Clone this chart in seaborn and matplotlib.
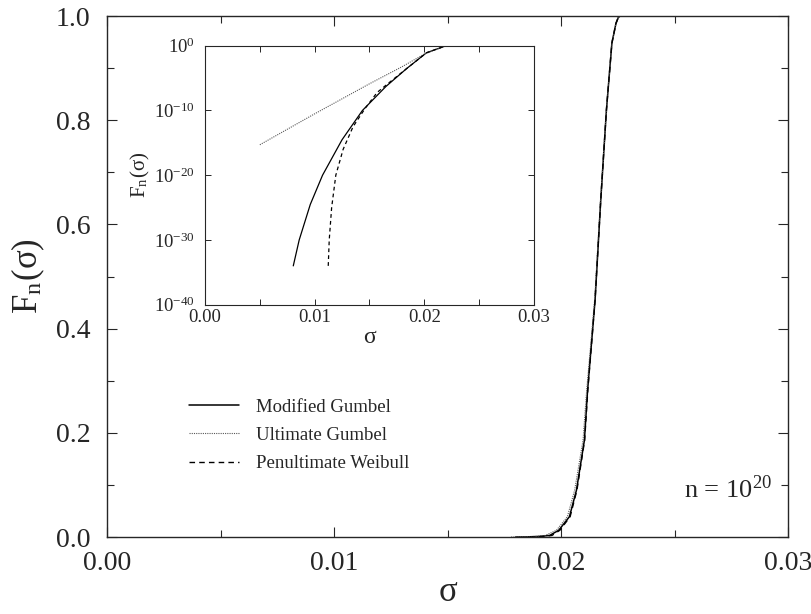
import matplotlib
matplotlib.use('Agg')
import matplotlib.pyplot as plt
import seaborn as sns
from matplotlib.ticker import MultipleLocator, FixedLocator, NullLocator, FormatStrFormatter

# main panel: F_n(sigma) on linear axes
main_F = [0.0, 0.0003, 0.001, 0.003, 0.013, 0.039, 0.09, 0.186, 0.282, 0.455, 0.647, 0.82, 0.948, 0.986, 0.997, 1.0]
main_sig_mod = [0.0180, 0.0185, 0.0190, 0.0195, 0.0199, 0.02037, 0.02068, 0.02103, 0.02117, 0.0215, 0.02175, 0.0220, 0.02224, 0.02242, 0.02252, 0.0226]
main_sig_ult = [0.0178, 0.0183, 0.0188, 0.0193, 0.0198, 0.02028, 0.0206, 0.02097, 0.02113, 0.02148, 0.02174, 0.0220, 0.02224, 0.02242, 0.02252, 0.0226]
main_sig_wei = [0.0186, 0.0189, 0.0192, 0.0196, 0.01995, 0.0204, 0.0207, 0.02104, 0.02118, 0.0215, 0.02175, 0.0220, 0.02224, 0.02242, 0.02252, 0.0226]

# inset: same curves on a log scale
in_sig_mod = [0.00805, 0.00859, 0.0096, 0.01072, 0.0125, 0.01436, 0.0165, 0.0184, 0.0202, 0.0220]
in_F_mod = [1e-34, 1e-30, 3e-25, 1e-20, 3e-15, 1e-10, 5e-7, 3e-4, 8e-2, 1.0]
in_sig_ult = [0.0050, 0.0100, 0.0150, 0.0180, 0.0200, 0.0220]
in_F_ult = [5e-16, 3e-11, 1.3e-6, 6e-4, 5e-2, 1.0]
in_sig_wei = [0.01124, 0.01133, 0.01155, 0.01193, 0.0126, 0.0135, 0.0146, 0.0157, 0.0168, 0.0184, 0.0202, 0.0220]
in_F_wei = [1e-34, 1e-30, 1e-25, 1e-20, 1e-16, 3e-13, 2e-10, 6e-8, 2e-6, 3e-4, 8e-2, 1.0]

sns.set_style('ticks')
plt.rcParams['font.family'] = ['Liberation Serif', 'DejaVu Serif']
plt.rcParams['mathtext.fontset'] = 'stix'

fig = plt.figure(figsize=(8.12, 6.14), dpi=100)
ax = fig.add_axes([0.1318, 0.1254, 0.8387, 0.8485])

sns.lineplot(x=main_sig_mod, y=main_F, ax=ax, color='black', lw=1.1, estimator=None, label='Modified Gumbel')
sns.lineplot(x=main_sig_ult, y=main_F, ax=ax, color='0.35', lw=0.8, linestyle=(0, (1, 1)), estimator=None, label='Ultimate Gumbel')
sns.lineplot(x=main_sig_wei, y=main_F, ax=ax, color='black', lw=1.0, linestyle=(0, (4, 3)), estimator=None, label='Penultimate Weibull')

ax.set_xlim(0, 0.03)
ax.set_ylim(0, 1)
ax.xaxis.set_major_locator(MultipleLocator(0.01))
ax.xaxis.set_minor_locator(MultipleLocator(0.005))
ax.yaxis.set_major_locator(MultipleLocator(0.2))
ax.yaxis.set_minor_locator(MultipleLocator(0.1))
ax.xaxis.set_major_formatter(FormatStrFormatter('%.2f'))
ax.yaxis.set_major_formatter(FormatStrFormatter('%.1f'))
ax.tick_params(which='major', direction='in', top=True, right=True, length=7, width=0.8, labelsize=20)
ax.tick_params(which='minor', direction='in', top=True, right=True, length=5, width=0.8)
ax.tick_params(axis='x', which='major', pad=10)
ax.tick_params(axis='y', which='major', pad=12)
for s in ax.spines.values():
    s.set_linewidth(1.0)
ax.set_xlabel('σ', fontsize=25, labelpad=0)
ax.set_ylabel('F$_\\mathregular{n}$(σ)', fontsize=25, labelpad=6)

ax.legend(loc='center left', bbox_to_anchor=(0.095, 0.195), frameon=False, fontsize=13.5,
          handlelength=2.7, labelspacing=0.6, handletextpad=0.9)
ax.text(0.976, 0.092, 'n = 10$^{\\mathregular{20}}$', transform=ax.transAxes, ha='right', va='center', fontsize=19)

# inset
axin = fig.add_axes([0.2525, 0.5037, 0.405, 0.4219])
sns.lineplot(x=in_sig_mod, y=in_F_mod, ax=axin, color='black', lw=0.9, estimator=None, legend=False)
sns.lineplot(x=in_sig_ult, y=in_F_ult, ax=axin, color='0.35', lw=0.8, linestyle=(0, (1, 1)), estimator=None, legend=False)
sns.lineplot(x=in_sig_wei, y=in_F_wei, ax=axin, color='black', lw=0.9, linestyle=(0, (3, 2.5)), estimator=None, legend=False)
axin.set_yscale('log')
axin.set_xlim(0, 0.03)
axin.set_ylim(1e-40, 1)
axin.yaxis.set_major_locator(FixedLocator([1e-40, 1e-30, 1e-20, 1e-10, 1]))
axin.yaxis.set_minor_locator(NullLocator())
axin.xaxis.set_major_locator(MultipleLocator(0.01))
axin.xaxis.set_minor_locator(MultipleLocator(0.005))
axin.xaxis.set_major_formatter(FormatStrFormatter('%.2f'))
axin.tick_params(which='both', direction='in', top=True, right=True, length=4, width=0.7, labelsize=13.5)
axin.tick_params(axis='x', pad=3)
axin.tick_params(axis='y', pad=7)
axin.set_xlabel('σ', fontsize=17, labelpad=1)
axin.set_ylabel('F$_\\mathregular{n}$(σ)', fontsize=15, labelpad=2)

fig.savefig('out.png', dpi=100)
